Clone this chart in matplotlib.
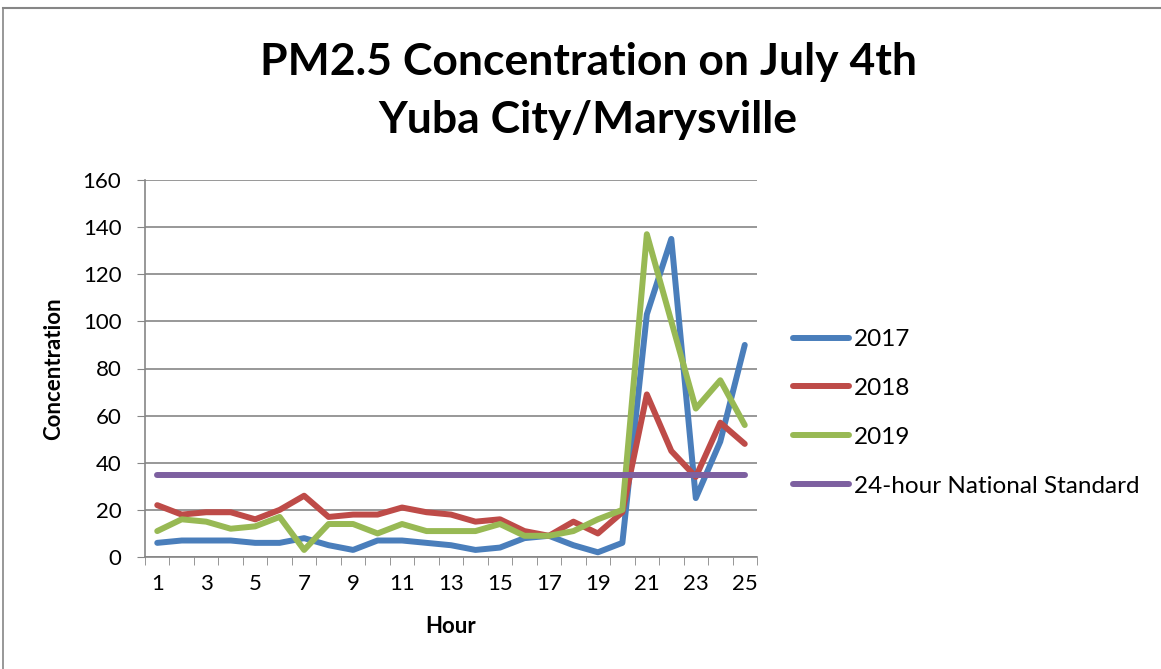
import matplotlib
matplotlib.use('Agg')
import matplotlib.pyplot as plt
from matplotlib.lines import Line2D

plt.rcParams['font.family'] = ['Lato', 'DejaVu Sans']

hours = list(range(1, 26))
pm_2017 = [6, 7, 7, 7, 6, 6, 8, 5, 3, 7, 7, 6, 5, 3, 4, 8, 9, 5, 2, 6, 103, 135, 25, 49, 90]
pm_2018 = [22, 18, 19, 19, 16, 20, 26, 17, 18, 18, 21, 19, 18, 15, 16, 11, 9, 15, 10, 19, 69, 45, 34, 57, 48]
pm_2019 = [11, 16, 15, 12, 13, 17, 3, 14, 14, 10, 14, 11, 11, 11, 14, 9, 9, 11, 16, 20, 137, 100, 63, 75, 56]
standard = [35] * 25

fig = plt.figure(figsize=(11.61, 6.69), dpi=100)
ax = fig.add_axes([145/1161, 1 - 557/669, (757-145)/1161, (557-180)/669])

lw = 4.3
ax.plot(hours, pm_2017, color='#4A7EBB', lw=lw, label='2017', solid_capstyle='round', solid_joinstyle='round')
ax.plot(hours, pm_2018, color='#BE4B48', lw=lw, label='2018', solid_capstyle='round', solid_joinstyle='round')
ax.plot(hours, pm_2019, color='#98B954', lw=lw, label='2019', solid_capstyle='round', solid_joinstyle='round')
ax.plot(hours, standard, color='#7D60A0', lw=lw, label='24-hour National Standard', solid_capstyle='round')

ax.set_xlim(0.5, 25.5)
ax.set_ylim(0, 160)
ax.set_yticks(range(0, 161, 20))
ax.set_xticks(range(1, 26, 2))
ax.set_xticks([h + 0.5 for h in range(0, 26)], minor=True)
ax.tick_params(axis='x', which='major', length=0, labelsize=16, pad=12)
ax.tick_params(axis='x', which='minor', length=6, color='#868686', direction='out')
ax.tick_params(axis='y', length=6, color='#868686', labelsize=16, pad=11)
ax.yaxis.grid(True, color='#868686', lw=1.2)
ax.set_axisbelow(True)
for s in ['top', 'right']:
    ax.spines[s].set_visible(False)
for s in ['left', 'bottom']:
    ax.spines[s].set_color('#868686')
    ax.spines[s].set_linewidth(1.2)

ax.set_xlabel('Hour', fontsize=16, fontweight='bold', labelpad=16)
ax.set_ylabel('Concentration', fontsize=16, fontweight='bold', labelpad=13)

fig.text(588/1161, 1 - 62/669, 'PM2.5 Concentration on July 4th', ha='center', va='center',
         fontsize=32, fontweight='bold')
fig.text(588/1161, 1 - 120/669, 'Yuba City/Marysville', ha='center', va='center',
         fontsize=32, fontweight='bold')

ax.legend(loc='upper left', bbox_to_anchor=(793/1161, 1 - 329/669), bbox_transform=fig.transFigure,
          frameon=False, fontsize=17.5, handlelength=2.3, handletextpad=0.2, labelspacing=1.15,
          borderaxespad=0, borderpad=0)

# outer chart border (cropped on right and bottom)
fig.add_artist(Line2D([3/1161, 1], [1 - 8/669, 1 - 8/669], color='#868686', lw=1.5, transform=fig.transFigure))
fig.add_artist(Line2D([3/1161, 3/1161], [0, 1 - 8/669], color='#868686', lw=1.2, transform=fig.transFigure))

fig.savefig('out.png', dpi=100)
